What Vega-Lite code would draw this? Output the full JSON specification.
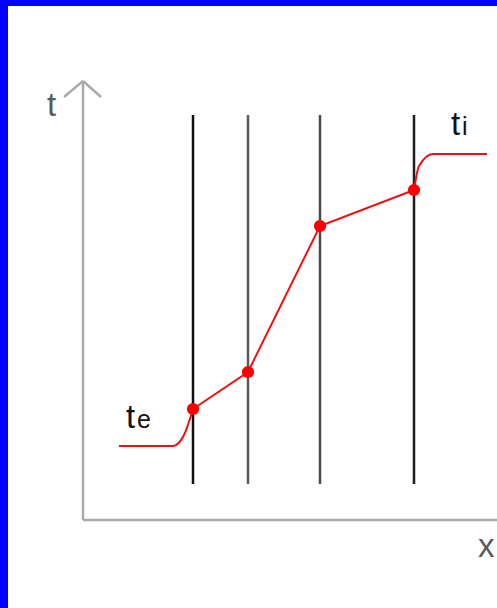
{
  "$schema": "https://vega.github.io/schema/vega-lite/v6.json",
  "width": 489,
  "height": 602,
  "autosize": {"type": "none"},
  "padding": {"left": 8, "top": 6, "right": 0, "bottom": 0},
  "background": "#0000ff",
  "config": {"view": {"stroke": null, "fill": "#ffffff"}},
  "datasets": {
    "axes": [
      {"x": 0, "t": 0, "x2": 0, "t2": 439},
      {"x": 0, "t": 0, "x2": 414, "t2": 0},
      {"x": 0, "t": 439, "x2": -19, "t2": 423},
      {"x": 0, "t": 439, "x2": 18, "t2": 423}
    ],
    "walls": [
      {"id": "a", "x": 110, "t": 36, "t2": 405},
      {"id": "b", "x": 165, "t": 36, "t2": 405},
      {"id": "c", "x": 237, "t": 36, "t2": 405},
      {"id": "d", "x": 331, "t": 36, "t2": 405}
    ],
    "mid": [
      {"x": 110, "t": 111},
      {"x": 165, "t": 148},
      {"x": 237, "t": 294},
      {"x": 331, "t": 330}
    ],
    "ends": [
      {"seg": "left", "x": 36, "t": 74},
      {"seg": "left", "x": 90, "t": 74},
      {"seg": "left", "x": 101, "t": 85},
      {"seg": "left", "x": 110, "t": 111},
      {"seg": "right", "x": 331, "t": 330},
      {"seg": "right", "x": 336, "t": 354},
      {"seg": "right", "x": 350, "t": 366},
      {"seg": "right", "x": 404, "t": 366}
    ],
    "big": [
      {"label": "t", "x": 43, "t": 92, "tone": "dark"},
      {"label": "t", "x": 368, "t": 385, "tone": "dark"},
      {"label": "t", "x": -36, "t": 404, "tone": "grey"},
      {"label": "x", "x": 395, "t": -37, "tone": "grey"}
    ],
    "small": [
      {"label": "e", "x": 54, "t": 92},
      {"label": "i", "x": 379, "t": 385}
    ]
  },
  "encoding": {
    "x": {"type": "quantitative", "scale": {"domain": [-75, 414], "nice": false, "zero": false}, "axis": null},
    "y": {"type": "quantitative", "scale": {"domain": [-88, 514], "nice": false, "zero": false}, "axis": null}
  },
  "layer": [
    {
      "data": {"name": "axes"},
      "mark": {"type": "rule", "color": "#aaaaaa", "strokeWidth": 2.5},
      "encoding": {
        "x": {"field": "x", "type": "quantitative"},
        "y": {"field": "t", "type": "quantitative"},
        "x2": {"field": "x2"},
        "y2": {"field": "t2"}
      }
    },
    {
      "data": {"name": "walls"},
      "mark": {"type": "rule", "strokeWidth": 2.5},
      "encoding": {
        "x": {"field": "x", "type": "quantitative"},
        "y": {"field": "t", "type": "quantitative"},
        "y2": {"field": "t2"},
        "color": {"field": "id", "type": "nominal", "legend": null,
          "scale": {"domain": ["a", "b", "c", "d"], "range": ["#111111", "#5a5a5a", "#4a4a4a", "#1e1e1e"]}}
      }
    },
    {
      "data": {"name": "ends"},
      "mark": {"type": "line", "color": "#ee1111", "strokeWidth": 2, "interpolate": "monotone"},
      "encoding": {
        "x": {"field": "x", "type": "quantitative"},
        "y": {"field": "t", "type": "quantitative"},
        "detail": {"field": "seg", "type": "nominal"}
      }
    },
    {
      "data": {"name": "mid"},
      "mark": {"type": "line", "color": "#ee1111", "strokeWidth": 2},
      "encoding": {
        "x": {"field": "x", "type": "quantitative"},
        "y": {"field": "t", "type": "quantitative"}
      }
    },
    {
      "data": {"name": "mid"},
      "mark": {"type": "point", "filled": true, "color": "#ff0000", "opacity": 1, "size": 150},
      "encoding": {
        "x": {"field": "x", "type": "quantitative"},
        "y": {"field": "t", "type": "quantitative"}
      }
    },
    {
      "data": {"name": "big"},
      "mark": {"type": "text", "font": "Liberation Sans", "fontSize": 33, "align": "left", "baseline": "alphabetic"},
      "encoding": {
        "x": {"field": "x", "type": "quantitative"},
        "y": {"field": "t", "type": "quantitative"},
        "text": {"field": "label"},
        "color": {"field": "tone", "type": "nominal", "legend": null,
          "scale": {"domain": ["dark", "grey"], "range": ["#111111", "#888888"]}}
      }
    },
    {
      "data": {"name": "small"},
      "mark": {"type": "text", "font": "Liberation Sans", "fontSize": 25, "align": "left", "baseline": "alphabetic", "color": "#111111"},
      "encoding": {
        "x": {"field": "x", "type": "quantitative"},
        "y": {"field": "t", "type": "quantitative"},
        "text": {"field": "label"}
      }
    }
  ]
}
